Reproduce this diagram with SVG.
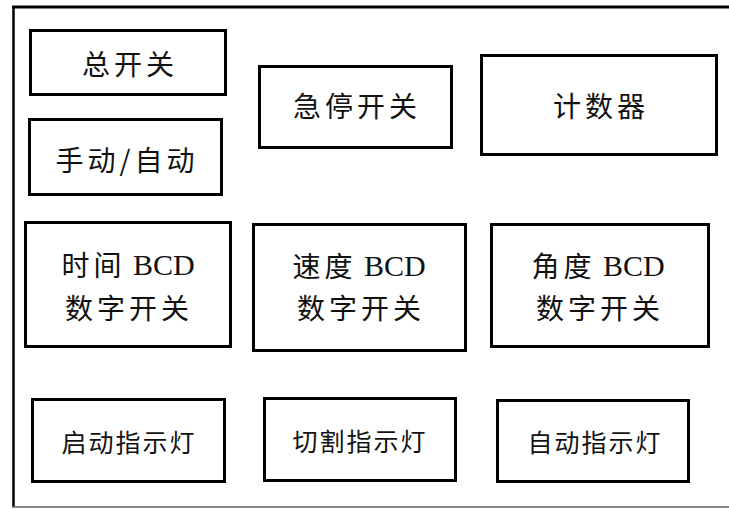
<svg xmlns="http://www.w3.org/2000/svg" width="729" height="509" viewBox="0 0 729 509">
<style>
.box{fill:#fff;stroke:#000;stroke-width:3}
.t{font-family:"Noto Sans CJK SC","Liberation Sans",sans-serif;font-size:28px;letter-spacing:4px;fill:#111;text-anchor:middle;dominant-baseline:central}
.s{font-size:25px;letter-spacing:2px}
.b{font-family:"Liberation Serif",serif;letter-spacing:0;font-size:30px}
</style>
<rect x="0" y="0" width="729" height="509" fill="#fff"/>
<g id="frame">
<line x1="13.5" y1="6" x2="13.5" y2="507" stroke="#000" stroke-width="2.5"/>
<line x1="12" y1="7" x2="729" y2="7" stroke="#000" stroke-width="3"/>
<line x1="12" y1="507" x2="729" y2="507" stroke="#666" stroke-width="1.5"/>
</g>
<g id="connectors"></g>
<g id="n-zongkaiguan"><rect class="box" x="30.5" y="30.5" width="195" height="64"/><text class="t" x="130" y="63">总开关</text></g>
<g id="n-shoudong"><rect class="box" x="29.5" y="119.5" width="192" height="75"/><text class="t" x="127" y="159">手动/自动</text></g>
<g id="n-jiting"><rect class="box" x="259.5" y="66.5" width="192" height="81"/><text class="t" x="357" y="105">急停开关</text></g>
<g id="n-jishuqi"><rect class="box" x="481.5" y="55.5" width="235" height="99"/><text class="t" x="601" y="105">计数器</text></g>
<g id="n-shijian"><rect class="box" x="25.5" y="222.5" width="205" height="124"/><text class="t" x="128" y="264">时间<tspan class="b"> BCD</tspan></text><text class="t" x="129" y="307">数字开关</text></g>
<g id="n-sudu"><rect class="box" x="253.5" y="224.5" width="212" height="126"/><text class="t" x="359" y="265">速度<tspan class="b"> BCD</tspan></text><text class="t" x="361" y="307">数字开关</text></g>
<g id="n-jiaodu"><rect class="box" x="491.5" y="224.5" width="217" height="122"/><text class="t" x="598" y="265">角度<tspan class="b"> BCD</tspan></text><text class="t" x="600" y="307">数字开关</text></g>
<g id="n-qidong"><rect class="box" x="32.5" y="399.5" width="192" height="82"/><text class="t s" x="129" y="441">启动指示灯</text></g>
<g id="n-qiege"><rect class="box" x="264.5" y="398.5" width="191" height="82"/><text class="t s" x="360" y="440">切割指示灯</text></g>
<g id="n-zidong"><rect class="box" x="497.5" y="400.5" width="191" height="81"/><text class="t s" x="595" y="441">自动指示灯</text></g>
</svg>
